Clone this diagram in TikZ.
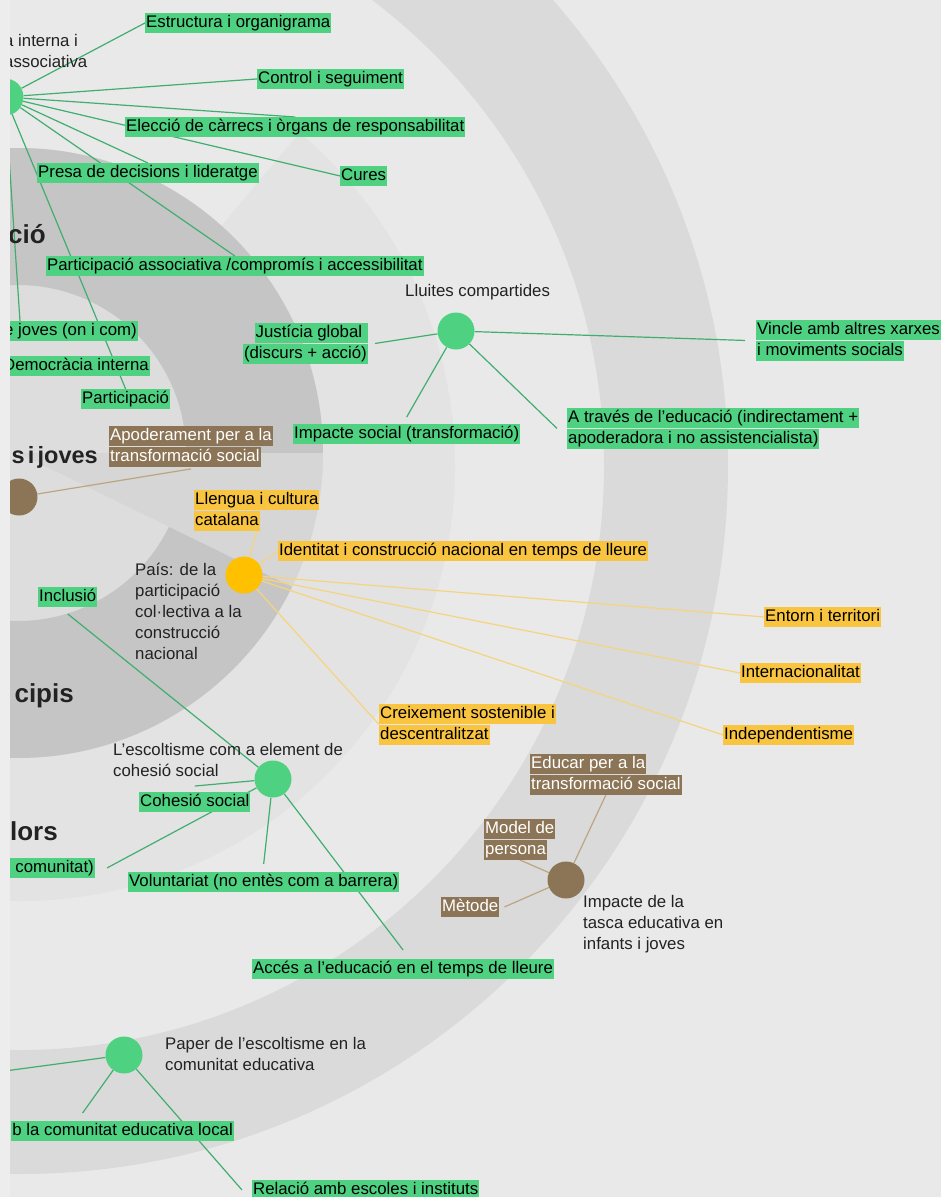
\documentclass[tikz,border=0pt]{standalone}
\usepackage{fontspec}
\setmainfont{Liberation Sans}

\definecolor{paper}{HTML}{E9E9E9}
\definecolor{margincol}{HTML}{EDEDED}
\definecolor{bandcol}{HTML}{DADADA}
\definecolor{ringcol}{HTML}{E3E3E3}
\definecolor{darkcol}{HTML}{C5C5C5}
\definecolor{corecol}{HTML}{DDDDDD}
\definecolor{jovescol}{HTML}{D6D6D6}
\definecolor{verd}{HTML}{4ED282}
\definecolor{verdline}{HTML}{3FAE6E}
\definecolor{groc}{HTML}{F9C440}
\definecolor{grochub}{HTML}{FFC000}
\definecolor{grocline}{HTML}{F6D47E}
\definecolor{marro}{HTML}{8C7556}
\definecolor{marroline}{HTML}{BCA67F}
\definecolor{tinta}{HTML}{222222}

\pgfdeclarelayer{back}
\pgfdeclarelayer{links}
\pgfdeclarelayer{front}
\pgfsetlayers{back,links,main,front}

\newcommand{\hl}[2]{{\setlength{\fboxsep}{1pt}\colorbox{#1}{\rule[-4pt]{0pt}{17.5pt}#2}}}
\newcommand{\pl}[1]{\rule[-5pt]{0pt}{19.5pt}#1}

\tikzset{
  every node/.style={font=\fontsize{16.8}{21}\selectfont, inner sep=0pt},
  lbl/.style={align=left, text=black},
  lblw/.style={align=left, text=white},
  txt/.style={align=left, text=tinta},
  big/.style={font=\fontsize{26}{30}\selectfont\bfseries, text=tinta},
  hubg/.style={circle, fill=verd, minimum size=37pt},
  hubb/.style={circle, fill=marro, minimum size=37pt},
  huby/.style={circle, fill=grochub, minimum size=37pt},
  lg/.style={draw=verdline, line width=1.2pt},
  ly/.style={draw=grocline, line width=1.2pt},
  lb/.style={draw=marroline, line width=1.2pt},
}

\begin{document}
\begin{tikzpicture}[x=1pt, y=-1pt]

    \useasboundingbox (0,0) rectangle (941,1197);

    \begin{pgfonlayer}{back}
      \fill[paper] (0,0) rectangle (941,1197);
      \fill[bandcol, even odd rule] (20,466) circle[radius=708] (20,466) circle[radius=584];
      \fill[ringcol] (20,466) -- ([shift={(20,466)}]-50:435) arc[start angle=-50, end angle=180, radius=435] -- cycle;
      \fill[corecol] (18,453) circle[radius=305];
      \fill[darkcol] ([shift={(18,453)}]-180:168) arc[start angle=-180, end angle=0, radius=168]
        -- ([shift={(18,453)}]0:305) arc[start angle=0, end angle=-180, radius=305] -- cycle;
      \fill[darkcol] ([shift={(18,453)}]26:168) arc[start angle=26, end angle=130, radius=168]
        -- ([shift={(18,453)}]130:305) arc[start angle=130, end angle=26, radius=305] -- cycle;
      \fill[jovescol] (18,453) -- ([shift={(18,453)}]0:305) arc[start angle=0, end angle=26, radius=305] -- cycle;
    \end{pgfonlayer}

    \node[big, anchor=base east] (tpart) at (46,243) {ció};
    \node[big, font=\fontsize{23.5}{28}\selectfont\bfseries, anchor=base east] (tjoves) at (98,463) {s\hspace{0.14em}i\hspace{0.14em}joves};
    \node[big, anchor=base east] (tprinc) at (74,702) {cipis};
    \node[big, anchor=base east] (tvalors) at (58,840) {lors};



    \node[hubg] (hint) at (5,97) {};
    \node[txt, anchor=north west] (inttxt) at (4,32) {\pl{a interna i}\\\pl{associativa}};

    \node[lbl, anchor=north west] (estructura) at (145,13) {\hl{verd}{Estructura i organigrama}};
    \node[lbl, anchor=north west] (control) at (257,69) {\hl{verd}{Control i seguiment}};
    \node[lbl, anchor=north west] (cures) at (340,166) {\hl{verd}{Cures}};
    \node[lbl, anchor=north west] (presa) at (37,163) {\hl{verd}{Presa de decisions i lideratge}};
    \node[lbl, anchor=north west] (partass) at (46,256) {\hl{verd}{Participació associativa /compromís i accessibilitat}};
    \node[lbl, anchor=north west] (eleccio) at (125,117) {\hl{verd}{Elecció de càrrecs i òrgans de responsabilitat}};
    \node[lbl, anchor=north east] (joves) at (138,321) {\hl{verd}{e joves (on i com)}};
    \node[lbl, anchor=north east] (democracia) at (150,356) {\hl{verd}{Democràcia interna}};
    \node[lbl, anchor=north west] (particip) at (81,389) {\hl{verd}{Participació}};



    \node[hubg] (hlluites) at (456,331) {};
    \node[txt, anchor=north west] (lluitestxt) at (405,282) {\pl{Lluites compartides}};

    \node[lbl, anchor=north east, align=right] (justicia) at (368,323) {\hl{verd}{Justícia global\ }\\\hl{verd}{(discurs + acció)}};
    \node[lbl, anchor=north west] (vincle) at (756,320) {\hl{verd}{Vincle amb altres xarxes}\\\hl{verd}{i moviments socials}};
    \node[lbl, anchor=north west] (impsocial) at (293,424) {\hl{verd}{Impacte social (transformació)}};
    \node[lbl, anchor=north west] (atraves) at (567,408) {\hl{verd}{A través de l’educació (indirectament +}\\\hl{verd}{apoderadora i no assistencialista)}};



    \node[hubb] (hjoves) at (19,497) {};
    \node[lblw, anchor=north west] (apoderament) at (109,426) {\hl{marro}{Apoderament per a la}\\\hl{marro}{transformació social}};



    \node[huby] (hpais) at (244,575) {};
    \node[txt, anchor=north west] (paistxt) at (135,561) {\pl{País: de la}\\\pl{participació}\\\pl{col·lectiva a la}\\\pl{construcció}\\\pl{nacional}};

    \node[lbl, anchor=north west] (llengua) at (194,490) {\hl{groc}{Llengua i cultura}\\\hl{groc}{catalana}};
    \node[lbl, anchor=north west] (identitat) at (278,541) {\hl{groc}{Identitat i construcció nacional en temps de lleure}};
    \node[lbl, anchor=north west] (entorn) at (764,607) {\hl{groc}{Entorn i territori}};
    \node[lbl, anchor=north west] (internac) at (740,663) {\hl{groc}{Internacionalitat}};
    \node[lbl, anchor=north west] (independ) at (723,725) {\hl{groc}{Independentisme}};
    \node[lbl, anchor=north west] (creixement) at (379,704) {\hl{groc}{Creixement sostenible i}\\\hl{groc}{descentralitzat}};



    \node[hubg] (hcohesio) at (273,779) {};
    \node[txt, anchor=north west] (escoltxt) at (113,741) {\pl{L’escoltisme com a element de}\\\pl{cohesió social}};

    \node[lbl, anchor=north west] (inclusio) at (38,587) {\hl{verd}{Inclusió}};
    \node[lbl, anchor=north west] (cohesio) at (139,792) {\hl{verd}{Cohesió social}};
    \node[lbl, anchor=north east] (comunitat) at (95,858) {\hl{verd}{\ comunitat)}};
    \node[lbl, anchor=north west] (voluntariat) at (128,872) {\hl{verd}{Voluntariat (no entès com a barrera)}};
    \node[lbl, anchor=north west] (acces) at (252,959) {\hl{verd}{Accés a l’educació en el temps de lleure}};



    \node[hubg] (hpaper) at (124,1055) {};
    \node[txt, anchor=north west] (papertxt) at (165,1035) {\pl{Paper de l’escoltisme en la}\\\pl{comunitat educativa}};

    \coordinate (paperout) at (-40,1077);
    \node[lbl, anchor=north east] (comlocal) at (234,1121) {\hl{verd}{b la comunitat educativa local}};
    \node[lbl, anchor=north west] (relacio) at (252,1180) {\hl{verd}{Relació amb escoles i instituts}};



    \node[hubb] (htasca) at (566,880) {};
    \node[txt, anchor=north west] (tascatxt) at (583,893) {\pl{Impacte de la}\\\pl{tasca educativa en}\\\pl{infants i joves}};

    \node[lblw, anchor=north west] (educar) at (530,754) {\hl{marro}{Educar per a la}\\\hl{marro}{transformació social}};
    \node[lblw, anchor=north west] (model) at (484,819) {\hl{marro}{Model de}\\\hl{marro}{persona}};
    \node[lblw, anchor=north west] (metode) at (441,897) {\hl{marro}{Mètode}};



    \begin{pgfonlayer}{links}
      \draw[lg] (hint) -- (estructura.west);
      \draw[lg] (hint) -- (control.west);
      \draw[lg] (hint) -- (eleccio.north);
      \draw[lg] (hint) -- (cures.west);
      \draw[lg] (hint) -- (presa.north);
      \draw[lg] (hint) -- (partass.north);
      \draw[lg] (hint) -- ([xshift=-118pt]joves.north east);
      \draw[lg] (hint) -- (particip.north);

      \draw[lg] (hlluites) -- ([xshift=7pt]justicia.east);
      \draw[lg] (hlluites) -- ([xshift=-11pt]vincle.west);
      \draw[lg] (hlluites) -- ([yshift=7pt]impsocial.north);
      \draw[lg] (hlluites) -- ([xshift=-10pt]atraves.west);

      \draw[lb] (hjoves) -- ([yshift=-2pt]apoderament.south);

      \draw[ly] (hpais) -- (llengua.south);
      \draw[ly] (hpais) -- (identitat.west);
      \draw[ly] (hpais) -- (entorn.west);
      \draw[ly] (hpais) -- (internac.west);
      \draw[ly] (hpais) -- (independ.west);
      \draw[ly] (hpais) -- (creixement.west);

      \draw[lg] (hcohesio) -- ([yshift=-7pt]inclusio.south);
      \draw[lg] (hcohesio) -- ([yshift=6pt]cohesio.north);
      \draw[lg] (hcohesio) -- ([xshift=12pt]comunitat.east);
      \draw[lg] (hcohesio) -- ([yshift=8pt]voluntariat.north);
      \draw[lg] (hcohesio) -- ([yshift=9pt]acces.north);

      \draw[lg] (hpaper) -- (paperout);
      \draw[lg] (hpaper) -- ([xshift=-40pt,yshift=8pt]comlocal.north);
      \draw[lg] (hpaper) -- ([xshift=-10pt]relacio.west);

      \draw[lb] (htasca) -- (educar.south);
      \draw[lb] (htasca) -- (model.south);
      \draw[lb] (htasca) -- ([xshift=5pt]metode.east);
    \end{pgfonlayer}

    \begin{pgfonlayer}{front}
      \fill[margincol] (-60,0) rectangle (10,1197);
    \end{pgfonlayer}

  \end{tikzpicture}
\end{document}
